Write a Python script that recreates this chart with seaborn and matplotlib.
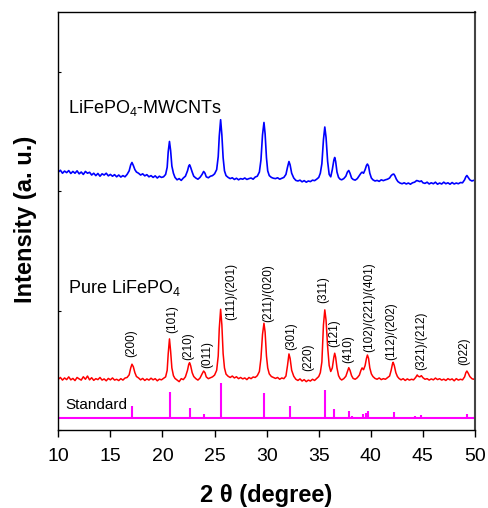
import numpy as np
import seaborn as sns
import matplotlib.pyplot as plt

# ===== DATA =====
# LiFePO4-MWCNTs pattern (blue), stacked at the top
blue_2theta = [10.0, 10.2, 10.4, 10.6, 10.8, 11.0, 11.2, 11.4, 11.6, 11.8, 12.0, 12.2, 12.4, 12.6, 12.8,
               13.0, 13.2, 13.4, 13.6, 13.8, 14.0, 14.2, 14.4, 14.6, 14.8, 15.0, 15.2, 15.4, 15.6, 15.8,
               16.0, 16.2, 16.4, 16.6, 16.8, 16.95, 17.07, 17.2, 17.35, 17.5, 17.7, 17.9, 18.1, 18.3, 18.5,
               18.7, 18.9, 19.1, 19.3, 19.5, 19.7, 19.9, 20.1, 20.3, 20.45, 20.55, 20.67, 20.78, 20.9, 21.05,
               21.2, 21.4, 21.6, 21.8, 22.0, 22.2, 22.4, 22.52, 22.6, 22.7, 22.85, 23.0, 23.2, 23.4, 23.6,
               23.8, 23.95, 24.08, 24.2, 24.4, 24.6, 24.8, 25.0, 25.2, 25.35, 25.45, 25.58, 25.7, 25.82, 25.95,
               26.1, 26.3, 26.5, 26.7, 26.9, 27.1, 27.3, 27.5, 27.7, 27.9, 28.1, 28.3, 28.5, 28.7, 28.9,
               29.1, 29.3, 29.45, 29.6, 29.74, 29.85, 29.98, 30.1, 30.25, 30.45, 30.65, 30.85, 31.05, 31.25, 31.45,
               31.65, 31.85, 32.0, 32.14, 32.25, 32.4, 32.6, 32.8, 33.0, 33.2, 33.4, 33.6, 33.8, 34.0, 34.2,
               34.4, 34.6, 34.8, 35.0, 35.15, 35.3, 35.45, 35.58, 35.7, 35.85, 36.0, 36.15, 36.3, 36.45, 36.53,
               36.62, 36.75, 36.9, 37.05, 37.2, 37.4, 37.6, 37.75, 37.88, 38.0, 38.15, 38.3, 38.5, 38.7, 38.9,
               39.05, 39.16, 39.3, 39.45, 39.58, 39.67, 39.78, 39.9, 40.05, 40.2, 40.4, 40.6, 40.8, 41.0, 41.2,
               41.4, 41.6, 41.8, 41.95, 42.08, 42.2, 42.3, 42.45, 42.6, 42.8, 43.0, 43.2, 43.4, 43.6, 43.8,
               44.0, 44.2, 44.4, 44.55, 44.7, 44.85, 45.0, 45.2, 45.4, 45.6, 45.8, 46.0, 46.2, 46.4, 46.6,
               46.8, 47.0, 47.2, 47.4, 47.6, 47.8, 48.0, 48.2, 48.4, 48.6, 48.8, 49.0, 49.12, 49.22, 49.35,
               49.5, 49.7, 49.85, 50.0]
blue_int = [2160, 2175, 2150, 2168, 2155, 2172, 2148, 2165, 2150, 2170, 2145, 2160, 2140, 2165, 2150,
            2158, 2135, 2150, 2130, 2148, 2125, 2145, 2135, 2150, 2128, 2140, 2125, 2138, 2120, 2135,
            2118, 2130, 2120, 2140, 2170, 2220, 2240, 2215, 2180, 2160, 2150, 2135, 2145, 2128, 2138,
            2120, 2130, 2115, 2128, 2110, 2125, 2115, 2120, 2140, 2200, 2330, 2416, 2340, 2210, 2150,
            2115, 2095, 2105, 2090, 2110, 2125, 2170, 2210, 2221, 2200, 2160, 2125, 2110, 2100, 2115,
            2140, 2165, 2150, 2120, 2112, 2125, 2130, 2145, 2180, 2290, 2460, 2598, 2470, 2280, 2170,
            2130, 2115, 2105, 2112, 2098, 2108, 2095, 2105, 2100, 2110, 2098, 2105, 2110, 2100, 2118,
            2125, 2160, 2260, 2470, 2575, 2480, 2280, 2170, 2130, 2115, 2108, 2105, 2112, 2100, 2108,
            2115, 2140, 2200, 2248, 2220, 2150, 2110, 2090, 2085, 2092, 2078, 2088, 2075, 2085, 2080,
            2092, 2088, 2100, 2115, 2150, 2230, 2430, 2537, 2450, 2250, 2140, 2120, 2180, 2260, 2282,
            2250, 2160, 2115, 2100, 2095, 2105, 2125, 2160, 2173, 2150, 2110, 2098, 2092, 2105, 2130,
            2150, 2159, 2150, 2180, 2215, 2227, 2210, 2150, 2110, 2095, 2085, 2090, 2082, 2095, 2088,
            2095, 2100, 2110, 2130, 2140, 2143, 2130, 2100, 2080, 2068, 2062, 2070, 2060, 2068, 2058,
            2070, 2075, 2089, 2085, 2080, 2086, 2070, 2065, 2075, 2060, 2070, 2062, 2075, 2058, 2068,
            2060, 2075, 2062, 2070, 2058, 2072, 2060, 2068, 2062, 2072, 2070, 2095, 2120, 2131, 2115,
            2095, 2085, 2090, 2089]

# Pure LiFePO4 pattern (red)
red_2theta = [10.0, 10.2, 10.4, 10.6, 10.8, 11.0, 11.2, 11.4, 11.6, 11.8, 12.0, 12.2, 12.4, 12.6, 12.8,
              13.0, 13.2, 13.4, 13.6, 13.8, 14.0, 14.2, 14.4, 14.6, 14.8, 15.0, 15.2, 15.4, 15.6, 15.8,
              16.0, 16.2, 16.4, 16.6, 16.8, 16.95, 17.07, 17.2, 17.35, 17.5, 17.7, 17.9, 18.1, 18.3, 18.5,
              18.7, 18.9, 19.1, 19.3, 19.5, 19.7, 19.9, 20.1, 20.3, 20.45, 20.55, 20.67, 20.78, 20.9, 21.05,
              21.2, 21.4, 21.6, 21.8, 22.0, 22.2, 22.4, 22.52, 22.6, 22.7, 22.85, 23.0, 23.2, 23.4, 23.6,
              23.8, 23.95, 24.08, 24.2, 24.4, 24.6, 24.8, 25.0, 25.2, 25.35, 25.45, 25.58, 25.7, 25.82, 25.95,
              26.1, 26.3, 26.5, 26.7, 26.9, 27.1, 27.3, 27.5, 27.7, 27.9, 28.1, 28.3, 28.5, 28.7, 28.9,
              29.1, 29.3, 29.45, 29.6, 29.74, 29.85, 29.98, 30.1, 30.25, 30.45, 30.65, 30.85, 31.05, 31.25, 31.45,
              31.65, 31.85, 32.0, 32.14, 32.25, 32.4, 32.6, 32.8, 33.0, 33.2, 33.4, 33.6, 33.8, 34.0, 34.2,
              34.4, 34.6, 34.8, 35.0, 35.15, 35.3, 35.45, 35.58, 35.7, 35.85, 36.0, 36.15, 36.3, 36.45, 36.53,
              36.62, 36.75, 36.9, 37.05, 37.2, 37.4, 37.6, 37.75, 37.88, 38.0, 38.15, 38.3, 38.5, 38.7, 38.9,
              39.05, 39.16, 39.3, 39.45, 39.58, 39.67, 39.78, 39.9, 40.05, 40.2, 40.4, 40.6, 40.8, 41.0, 41.2,
              41.4, 41.6, 41.8, 41.95, 42.08, 42.14, 42.25, 42.4, 42.55, 42.7, 42.9, 43.1, 43.3, 43.5, 43.7,
              43.9, 44.1, 44.3, 44.45, 44.55, 44.7, 44.85, 45.0, 45.2, 45.4, 45.6, 45.8, 46.0, 46.2, 46.4,
              46.6, 46.8, 47.0, 47.2, 47.4, 47.6, 47.8, 48.0, 48.2, 48.4, 48.6, 48.8, 49.0, 49.12, 49.22,
              49.35, 49.5, 49.7, 49.85, 50.0]
red_int = [425, 440, 418, 436, 422, 445, 420, 432, 414, 440, 428, 418, 446, 425, 452,
           420, 438, 416, 430, 422, 440, 418, 428, 412, 432, 420, 436, 418, 425, 414,
           430, 418, 435, 440, 462, 520, 551, 530, 480, 448, 436, 420, 432, 415, 428,
           418, 434, 420, 430, 412, 426, 420, 432, 445, 500, 640, 763, 660, 520, 455,
           432, 418, 405, 430, 422, 445, 500, 550, 564, 540, 480, 448, 430, 418, 435,
           470, 494, 480, 445, 430, 438, 445, 460, 500, 620, 850, 1011, 880, 640, 520,
           468, 450, 440, 452, 436, 446, 430, 440, 428, 436, 422, 440, 430, 444, 440,
           455, 490, 600, 800, 894, 820, 620, 520, 470, 448, 440, 432, 440, 425, 436,
           430, 452, 540, 637, 600, 500, 450, 425, 415, 428, 410, 422, 405, 418, 410,
           425, 415, 432, 448, 480, 570, 880, 1006, 920, 700, 540, 490, 520, 610, 643,
           610, 520, 455, 430, 419, 430, 450, 490, 522, 500, 455, 432, 425, 438, 460,
           500, 520, 505, 540, 600, 628, 600, 520, 470, 448, 432, 425, 436, 422, 430,
           425, 438, 452, 500, 555, 567, 540, 480, 448, 432, 420, 430, 415, 428, 418,
           425, 420, 440, 461, 450, 445, 455, 438, 425, 430, 418, 428, 420, 435, 422,
           430, 418, 426, 415, 430, 420, 428, 412, 430, 418, 425, 420, 445, 480, 494,
           475, 448, 430, 425, 432]

# JCPDS standard reflections (magenta sticks)
std_2theta = [17.1, 20.75, 22.65, 24.0, 25.6, 29.7, 32.2, 34.4, 35.6, 36.5, 37.9, 38.2, 39.25, 39.5,
              39.7, 42.2, 44.2, 44.8, 46.1, 47.9, 49.2, 50.0]
std_height = [101, 218, 84, 34, 293, 210, 101, 13, 235, 75, 59, 17, 34, 42,
              59, 50, 17, 25, 13, 13, 34, 17]
std_base = 100

# Miller index labels
hkl_labels = ["(200)", "(101)", "(210)", "(011)", "(111)/(201)", "(211)/(020)", "(301)", "(220)",
              "(311)", "(121)", "(410)", "(102)/(221)/(401)", "(112)/(202)", "(321)/(212)", "(022)"]
hkl_2theta = [17.04, 20.93, 22.46, 24.29, 26.63, 30.13, 32.38, 33.97,
              35.47, 36.53, 37.87, 39.89, 41.97, 44.84, 48.99]
hkl_y = [614, 813, 587, 520, 922, 908, 670, 497,
         1062, 698, 559, 656, 587, 503, 545]

# ===== PLOT =====
sns.set_theme(style="ticks")
plt.rcParams['font.family'] = ['Liberation Sans', 'DejaVu Sans']
plt.rcParams['mathtext.fontset'] = 'custom'
plt.rcParams['mathtext.rm'] = 'Liberation Sans'
plt.rcParams['text.color'] = 'black'
plt.rcParams['axes.labelcolor'] = 'black'

fig = plt.figure(figsize=(4.88, 5.08), dpi=100)
ax = fig.add_axes([0.1195, 0.1535, 0.8539, 0.8229])

sns.lineplot(x=blue_2theta, y=blue_int, color="#0000FF", lw=1.2, estimator=None, ax=ax)
sns.lineplot(x=red_2theta, y=red_int, color="#FF0000", lw=1.1, estimator=None, ax=ax)

ax.plot([10, 50], [std_base, std_base], color="#FF00FF", lw=1.5)
ax.vlines(std_2theta, std_base, [std_base + h for h in std_height], color="#FF00FF", lw=1.5)

for lab, xx, yy in zip(hkl_labels, hkl_2theta, hkl_y):
    ax.text(xx, yy, lab, rotation=90, ha="center", va="bottom", fontsize=8.5, color="black")

ax.text(10.93, 2656, r"LiFePO$_4$-MWCNTs", fontsize=13, va="baseline", ha="left")
ax.text(10.93, 1148, r"Pure LiFePO$_4$", fontsize=13, va="baseline", ha="left")
ax.text(10.64, 176, "Standard", fontsize=11, va="baseline", ha="left")

ax.set_xlim(10, 50)
ax.set_ylim(0, 3500)
ax.set_xticks(range(10, 51, 5))
ax.set_yticks([0, 1000, 2000, 3000])
ax.set_yticklabels([])
ax.tick_params(axis="x", direction="out", length=5, width=1, labelsize=14, pad=8,
               colors="black", labelcolor="black")
ax.tick_params(axis="y", direction="in", length=2.5, width=0.8, colors="black")

for side in ["left", "bottom", "top"]:
    ax.spines[side].set_color("black")
    ax.spines[side].set_linewidth(1.0)
ax.spines["right"].set_color("#444444")
ax.spines["right"].set_linewidth(1.5)

ax.set_xlabel("2 θ (degree)", fontsize=17, fontweight="bold", color="black")
ax.set_ylabel("Intensity (a. u.)", fontsize=17, fontweight="bold", color="black")
ax.xaxis.set_label_coords(0.498, -0.128)
ax.yaxis.set_label_coords(-0.05, 0.505)

fig.savefig("out.png", dpi=100)
